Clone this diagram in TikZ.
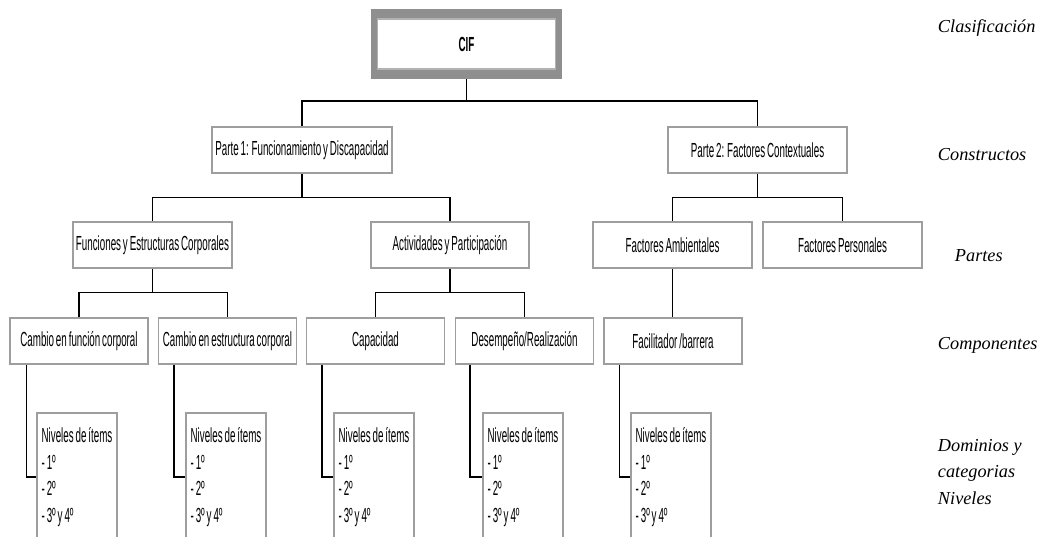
\documentclass[tikz,border=0pt]{standalone}
\usepackage{fontspec}
\usepackage{tikz}
\usetikzlibrary{calc}
\newfontfamily\narrowsans{Liberation Sans}[FakeStretch=0.48, WordSpace=0.7]
\newfontfamily\sideserif{Liberation Serif}

\begin{document}
\begin{tikzpicture}[x=0.025cm, y=-0.025cm,
    box/.style={draw=black!38, line width=0.9pt, rectangle, minimum height=1.15cm, inner sep=0pt, font=\narrowsans\fontsize{14.5}{16}\selectfont},
    comp/.style={box, minimum width=3.45cm},
    nivel/.style={draw=black!38, line width=0.9pt, rectangle, minimum height=3.2cm, minimum width=2cm, inner sep=0pt, align=left, font=\narrowsans\fontsize{14.5}{19}\selectfont},
    conn/.style={line width=1.2pt, black},
    side/.style={anchor=west, font=\sideserif\itshape\fontsize{13}{16}\selectfont}]
    \clip (0,0) rectangle (1040,537);
    % Classification
    \node[fill=black!44, minimum width=4.775cm, minimum height=1.75cm] (cif) at (466.5,44) {};
    \node[draw=black!30, fill=white, line width=1pt, minimum width=4.45cm, minimum height=1.25cm, font=\narrowsans\bfseries\fontsize{14.5}{16}\selectfont] (cifin) at (cif.center) {CIF};
    % Constructs
    \node[box, minimum width=4.5cm] (parte1) at (302,150) {Parte 1: Funcionamiento y Discapacidad};
    \node[box, minimum width=4.475cm] (parte2) at (757.5,150) {Parte 2: Factores Contextuales};
    % Parts
    \node[box, minimum width=3.975cm] (funciones) at (152.5,245) {Funciones y Estructuras Corporales};
    \node[box, minimum width=3.95cm] (actividades) at (450,245) {Actividades y Participación};
    \node[box, minimum width=3.975cm] (ambientales) at (672.5,245) {Factores Ambientales};
    \node[box, minimum width=3.975cm] (personales) at (842.5,245) {Factores Personales};
    % Components
    \node[comp] (funcion) at (79,341) {Cambio en función corporal};
    \node[comp] (estructura) at (227.5,341) {Cambio en estructura corporal};
    \node[comp] (capacidad) at (375.5,341) {Capacidad};
    \node[comp] (desempeno) at (524.5,341) {Desempeño/Realización};
    \node[comp] (facilitador) at (673,341) {Facilitador /barrera};
    % Levels
    \node[nivel] (nivel1) at (77,477) {Niveles de ítems\\- 1º\\- 2º\\- 3º y 4º};
    \node[nivel] (nivel2) at (226,477) {Niveles de ítems\\- 1º\\- 2º\\- 3º y 4º};
    \node[nivel] (nivel3) at (374,477) {Niveles de ítems\\- 1º\\- 2º\\- 3º y 4º};
    \node[nivel] (nivel4) at (523,477) {Niveles de ítems\\- 1º\\- 2º\\- 3º y 4º};
    \node[nivel] (nivel5) at (671,477) {Niveles de ítems\\- 1º\\- 2º\\- 3º y 4º};
    % Side labels
    \node[side] (lclas) at (933,28) {Clasificación};
    \node[side] (lcons) at (933,155) {Constructos};
    \node[side] (lpart) at (950,256) {Partes};
    \node[side] (lcomp) at (933,345) {Componentes};
    \node[side, align=left, font=\sideserif\itshape\fontsize{13}{19}\selectfont] (ldom) at (933,472) {Dominios y\\categorias\\Niveles};

    % Connections
    \draw[conn] (cif.south) -- ++(0,22) -| (parte1.north);
    \draw[conn] (cif.south) ++(0,22) -| (parte2.north);
    \draw[conn] (parte1.south) -- ++(0,24) -| (funciones.north);
    \draw[conn] (parte1.south) ++(0,24) -| (actividades.north);
    \draw[conn] (parte2.south) -- ++(0,24) -| (ambientales.north);
    \draw[conn] (parte2.south) ++(0,24) -| (personales.north);
    \draw[conn] (funciones.south) -- ++(0,24) -| (funcion.north);
    \draw[conn] (funciones.south) ++(0,24) -| (estructura.north);
    \draw[conn] (actividades.south) -- ++(0,24) -| (capacidad.north);
    \draw[conn] (actividades.south) ++(0,24) -| (desempeno.north);
    \draw[conn] (ambientales.south) -- (ambientales.south |- facilitador.north);
    \draw[conn] ($(funcion.south west)+(17,0)$) |- (nivel1.west);
    \draw[conn] ($(estructura.south west)+(16,0)$) |- (nivel2.west);
    \draw[conn] ($(capacidad.south west)+(16,0)$) |- (nivel3.west);
    \draw[conn] ($(desempeno.south west)+(15,0)$) |- (nivel4.west);
    \draw[conn] ($(facilitador.south west)+(16,0)$) |- (nivel5.west);
\end{tikzpicture}
\end{document}
